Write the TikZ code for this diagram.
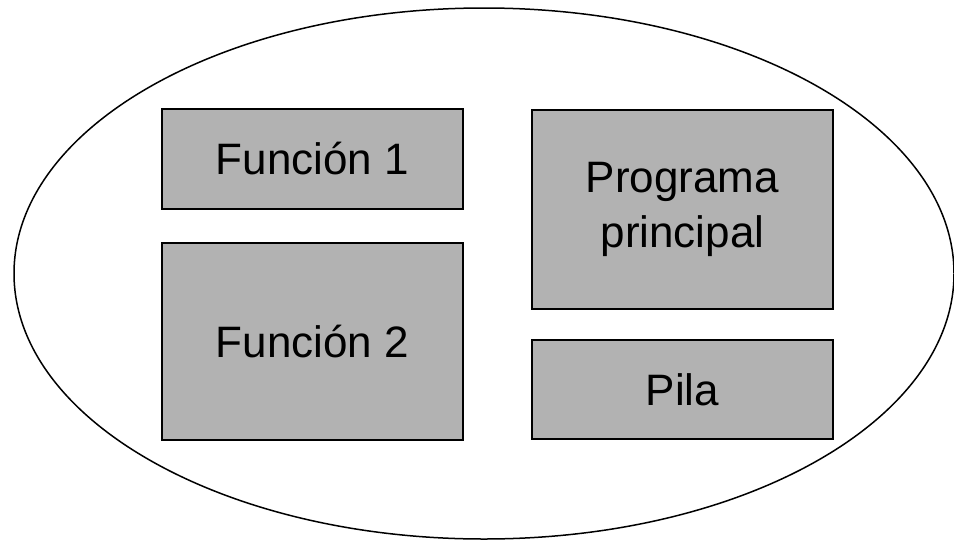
\documentclass[tikz,border=0pt]{standalone}
\usepackage{fontspec}
\setmainfont{Liberation Sans}
\definecolor{boxgray}{RGB}{178,178,178}

\begin{document}
\begin{tikzpicture}[x=0.5pt, y=-0.5pt]
                \useasboundingbox (0,0) rectangle (954,541);

                \draw[line width=0.75pt] (484,273.5) ellipse [x radius=235pt, y radius=132.75pt];

                \begin{scope}[
                        every node/.style={rectangle, draw, line width=1pt, fill=boxgray,
                            minimum width=150.5pt, align=center,
                            font=\fontsize{22}{27.5}\selectfont}
                    ]

                    \node[minimum height=50pt] (f1) at (312.5,159) {Función 1};
                    \node[minimum height=98.5pt] (f2) at (312.5,341.5) {Función 2};

                    \node[minimum height=99.5pt] (pp) at (682.5,209.5) {Programa\\principal};
                    \node[minimum height=49.5pt] (pila) at (682.5,389.5) {Pila};
                \end{scope}
            \end{tikzpicture}
\end{document}
